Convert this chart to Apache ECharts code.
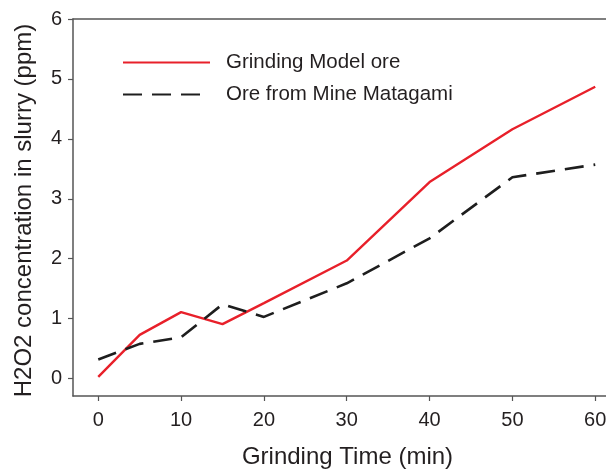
<!DOCTYPE html>
<html><head><meta charset="utf-8">
<script src="https://cdn.jsdelivr.net/npm/echarts@6/dist/echarts.min.js"></script>
<style>html,body{margin:0;padding:0;background:#fff}#c{width:606px;height:470px}</style>
</head><body><div id="c"></div>
<script>
const times = [0, 5, 10, 15, 20, 30, 40, 50, 60];
const modelOre = [0.03, 0.73, 1.11, 0.91, 1.26, 1.97, 3.28, 4.16, 4.87];
const matagamiOre = [0.32, 0.58, 0.69, 1.24, 1.03, 1.59, 2.34, 3.36, 3.57];
const xTicks = [0, 10, 20, 30, 40, 50, 60];
const yTicks = [0, 1, 2, 3, 4, 5, 6];
const seriesNames = ['Grinding Model ore', 'Ore from Mine Matagami'];

const font = 'Liberation Sans, Arial, Helvetica, sans-serif';
const txt = '#231f20';
const axisCol = '#555555';
const chart = echarts.init(document.getElementById('c'), null, {renderer: 'canvas'});
chart.setOption({
  animation: false,
  textStyle: {fontFamily: font},
  grid: {left: 73, top: 19, right: 0, bottom: 74, containLabel: false, outerBoundsMode: 'none'},
  legend: {
    left: 117, top: 47, orient: 'vertical', itemWidth: 87, itemHeight: 14, itemGap: 11,
    itemStyle: {opacity: 0},
    textStyle: {fontSize: 20.5, color: txt, fontFamily: font, padding: [0, 0, 0, 11]},
    data: seriesNames
  },
  xAxis: [{
    type: 'value', min: -3.05, max: 61.3,
    axisLine: {show: true, onZero: false, lineStyle: {color: axisCol, width: 1.5}},
    axisTick: {show: true, customValues: xTicks, length: 5, lineStyle: {color: axisCol, width: 1.2}},
    axisLabel: {customValues: xTicks, fontSize: 20, color: txt, margin: 14, fontFamily: font},
    splitLine: {show: false},
    name: 'Grinding Time (min)', nameLocation: 'middle', nameGap: 49,
    nameTextStyle: {fontSize: 24, color: txt, fontFamily: font, padding: [0, 0, 0, 16]}
  }, {
    type: 'value', position: 'top', min: -3.05, max: 61.3,
    axisLine: {show: true, onZero: false, lineStyle: {color: axisCol, width: 1.5}},
    axisTick: {show: false}, axisLabel: {show: false}, splitLine: {show: false}
  }],
  yAxis: {
    type: 'value', min: -0.29, max: 6,
    axisLine: {show: true, onZero: false, lineStyle: {color: axisCol, width: 1.5}},
    axisTick: {show: true, customValues: yTicks, length: 5, lineStyle: {color: axisCol, width: 1.2}},
    axisLabel: {customValues: yTicks, fontSize: 20, color: txt, margin: 11, fontFamily: font},
    splitLine: {show: false},
    name: 'H2O2 concentration in slurry (ppm)', nameLocation: 'middle', nameGap: 37,
    nameTextStyle: {fontSize: 24, color: txt, fontFamily: font, padding: [0, 6, 0, 0]}
  },
  series: [{
    name: seriesNames[0], type: 'line', symbol: 'none',
    data: times.map((t, i) => [t, modelOre[i]]),
    lineStyle: {color: '#e8202a', width: 2.4}, itemStyle: {color: '#e8202a'}
  }, {
    name: seriesNames[1], type: 'line', symbol: 'none',
    data: times.map((t, i) => [t, matagamiOre[i]]),
    lineStyle: {color: '#1e1e1e', width: 2.6, type: [19, 10]}, itemStyle: {color: '#1e1e1e'}
  }]
});
</script></body></html>
